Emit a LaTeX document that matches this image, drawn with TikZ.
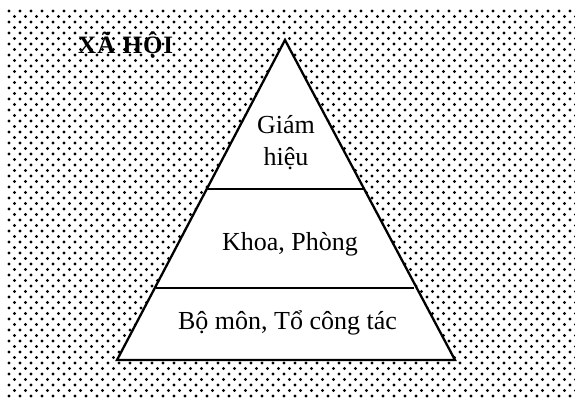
\documentclass[tikz,border=0pt]{standalone}
\usepackage{fontspec}
\setmainfont{Liberation Serif}
\begin{document}
\begin{tikzpicture}[x=1pt,y=-1pt,
  lbl/.style={font=\fontsize{26}{32}\selectfont, align=center, inner sep=0pt},
  edge/.style={line width=2.3pt, line join=miter}]
\useasboundingbox (0,0) rectangle (575,400);
% halftone background
\foreach \k in {0,...,70}{
  \pgfmathsetmacro{\yy}{11+5.5*\k}
  \pgfmathsetmacro{\xo}{mod(\k,2)*5.5}
  \foreach \j in {0,...,51}{
    \fill (9+\xo+11*\j,\yy) circle (1.65);
  }
}
% pyramid
\coordinate (apex) at (285,40);
\coordinate (bl) at (117,360);
\coordinate (br) at (455,360);
\fill[white] (apex) -- (bl) -- (br) -- cycle;
\draw[edge] (apex) -- (bl) -- (br) -- cycle;
\coordinate (a1) at (206.4,189);
\coordinate (b1) at (363.6,189);
\coordinate (a2) at (155.8,288);
\coordinate (b2) at (414.2,288);
\draw[edge] (a1) -- (b1);
\draw[edge] (a2) -- (b2);
\node[lbl, anchor=base] (gh) at (286,165) {Giám\\hiệu};
\node[lbl, anchor=base] (kp) at (290,250) {Khoa, Phòng};
\node[lbl, anchor=base] (bm) at (287.5,329) {Bộ môn, Tổ công tác};
\node[font=\fontsize{25}{30}\selectfont\bfseries\addfontfeature{LetterSpace=4}, anchor=base west, inner sep=0pt] (xh) at (78,53) {XÃ HỘI};
\end{tikzpicture}
\end{document}
